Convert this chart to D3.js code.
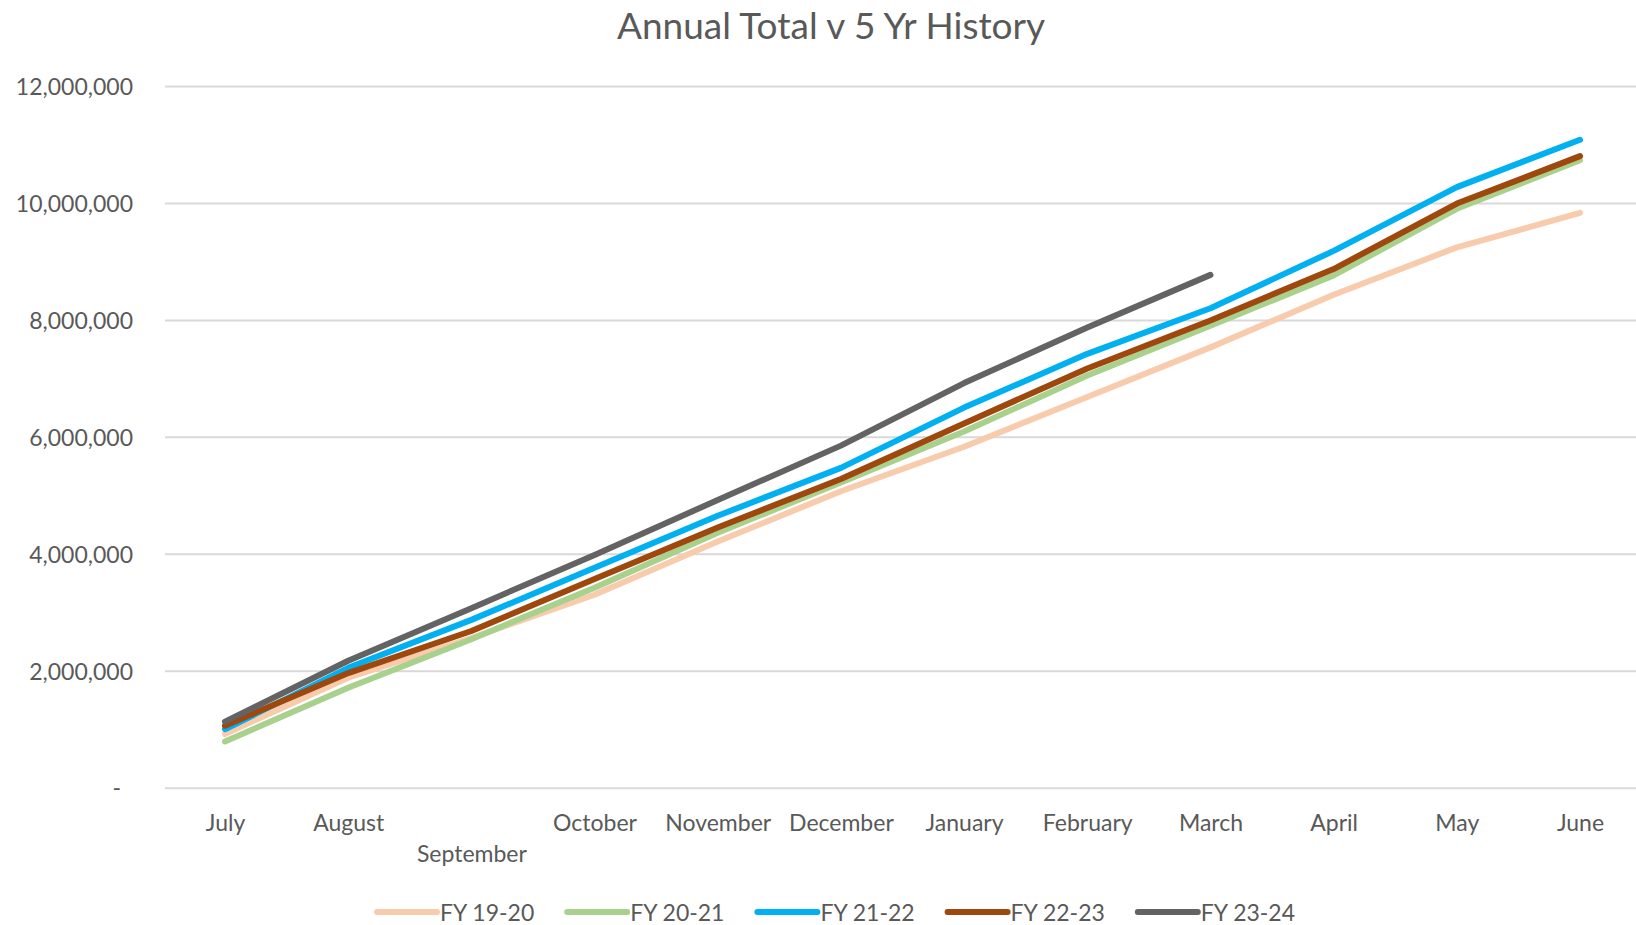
<!DOCTYPE html>
<html>
<head>
<meta charset="utf-8">
<script src="https://cdn.jsdelivr.net/npm/d3@7"></script>
<style>
  body { margin: 0; background: #fff; }
  text { font-family: Lato, "Noto Sans", sans-serif; fill: #595959; }
</style>
</head>
<body>
<div id="chart"></div>
<script>
// data (cumulative totals)
var months = ["July", "August", "September", "October", "November", "December",
              "January", "February", "March", "April", "May", "June"]
var seriesNames = ["FY 19-20", "FY 20-21", "FY 21-22", "FY 22-23", "FY 23-24"]
var fy1920 = [920000, 1880000, 2560000, 3300000, 4210000, 5070000, 5830000, 6680000, 7530000, 8430000, 9240000, 9830000]
var fy2021 = [790000, 1710000, 2540000, 3420000, 4360000, 5220000, 6090000, 7050000, 7900000, 8760000, 9900000, 10730000]
var fy2122 = [1000000, 2050000, 2870000, 3760000, 4650000, 5470000, 6500000, 7420000, 8200000, 9180000, 10270000, 11080000]
var fy2223 = [1060000, 1960000, 2680000, 3570000, 4450000, 5280000, 6230000, 7170000, 7990000, 8870000, 9990000, 10800000]
var fy2324 = [1130000, 2170000, 3070000, 3980000, 4920000, 5850000, 6920000, 7870000, 8770000]
var yTicks = [0, 2000000, 4000000, 6000000, 8000000, 10000000, 12000000]

var colors = ["#F8CBAD", "#A9D18E", "#00B0F0", "#9E480E", "#636363"]
var allValues = [fy1920, fy2021, fy2122, fy2223, fy2324]

var W = 1636, H = 925
var margin = {top: 86, right: 0, bottom: 137, left: 165}

var svg = d3.select("#chart").append("svg")
    .attr("width", W)
    .attr("height", H)

// title
svg.append("text")
    .attr("x", 831)
    .attr("y", 39)
    .attr("text-anchor", "middle")
    .style("font-size", "37px")
    .text("Annual Total v 5 Yr History")

// scales
var x = d3.scalePoint()
    .domain(months)
    .range([225, 1580])

var y = d3.scaleLinear()
    .domain([0, 12000000])
    .range([H - margin.bottom - 0.3, margin.top])

// Y axis with gridlines
var yAxis = svg.append("g")
    .attr("transform", `translate(${margin.left},0)`)
    .call(d3.axisLeft(y)
        .tickValues(yTicks)
        .tickSize(-(W - margin.left))
        .tickPadding(32)
        .tickFormat(d => d === 0 ? "-" : d3.format(",")(d)))
yAxis.select(".domain").remove()
yAxis.selectAll(".tick line")
    .attr("stroke", "#D9D9D9")
    .attr("stroke-width", 2)
yAxis.selectAll(".tick text")
    .style("font-size", "23px")
    .attr("fill", "#595959")
    .attr("dy", "0.36em")
    .attr("dx", d => d === 0 ? -12 : 0)

// X axis labels (September staggered down like Excel)
var xAxis = svg.append("g")
    .attr("transform", `translate(0,${y(0)})`)
    .call(d3.axisBottom(x).tickSize(0))
xAxis.select(".domain").remove()
xAxis.selectAll(".tick text")
    .style("font-size", "23px")
    .attr("fill", "#595959")
    .attr("dy", 0)
    .attr("y", d => d === "September" ? 74 : 43)

// lines
var line = d3.line()
    .x((d, i) => x(months[i]))
    .y(d => y(d))

svg.append("g")
    .selectAll("path")
    .data(allValues)
    .join("path")
    .attr("d", d => line(d))
    .attr("fill", "none")
    .attr("stroke", (d, i) => colors[i])
    .attr("stroke-width", 6)
    .attr("stroke-linejoin", "round")
    .attr("stroke-linecap", "round")

// legend
var legend = svg.append("g")
    .attr("transform", "translate(377,912)")
var item = legend.selectAll("g")
    .data(seriesNames)
    .join("g")
    .attr("transform", (d, i) => `translate(${i * 190.2},0)`)
item.append("line")
    .attr("x1", 0).attr("x2", 60)
    .attr("y1", 0).attr("y2", 0)
    .attr("stroke", (d, i) => colors[i])
    .attr("stroke-width", 6)
    .attr("stroke-linecap", "round")
item.append("text")
    .attr("x", 63)
    .attr("y", 8.5)
    .style("font-size", "23px")
    .text(d => d)
</script>
</body>
</html>
